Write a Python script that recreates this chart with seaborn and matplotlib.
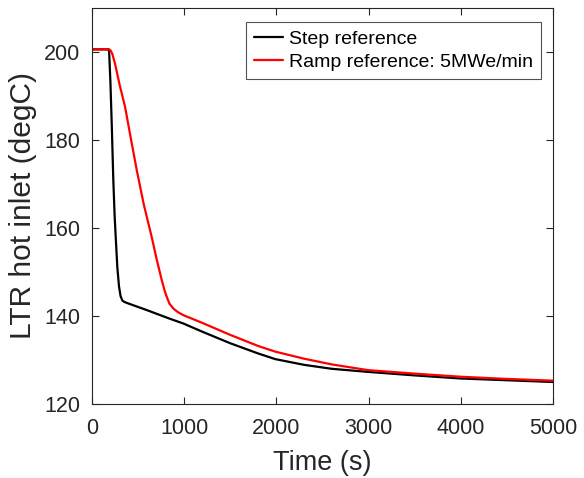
import numpy as np
import pandas as pd
import matplotlib.pyplot as plt
import seaborn as sns

# values (time in s, temperature in degC)
step_t = [0, 100, 180, 186, 200, 215, 231, 245, 257, 275, 293, 310, 330, 350, 400, 600, 828, 990,
          1200, 1500, 1800, 1988, 2300, 2600, 2993, 3500, 3995, 4500, 5000]
step_T = [200.6, 200.6, 200.6, 200.0, 193.0, 183.0, 171.0, 163.0, 158.0, 151.0, 146.7, 144.5, 143.5,
          143.2, 142.8, 141.3, 139.5, 138.3, 136.4, 133.8, 131.5, 130.2, 128.9, 128.0, 127.3, 126.5,
          125.8, 125.4, 125.0]

ramp_t = [0, 100, 184, 200, 220, 249, 300, 358, 420, 485, 560, 647, 700, 756, 790, 810, 840, 882,
          930, 990, 1200, 1500, 1800, 1988, 2300, 2600, 2993, 3500, 3995, 4500, 5000]
ramp_T = [200.6, 200.6, 200.6, 200.4, 199.6, 197.4, 192.5, 187.6, 180.5, 173.2, 165.5, 158.0, 153.0,
          148.2, 145.6, 144.4, 142.8, 141.7, 140.9, 140.2, 138.4, 135.7, 133.2, 131.9, 130.3, 129.0,
          127.7, 126.9, 126.2, 125.7, 125.3]

labels = ["Step reference", "Ramp reference: 5MWe/min"]

df = pd.concat([
    pd.DataFrame({"t": step_t, "T": step_T, "case": labels[0]}),
    pd.DataFrame({"t": ramp_t, "T": ramp_T, "case": labels[1]}),
])

sns.set_style("ticks")
plt.rcParams['font.family'] = ['Liberation Sans', 'DejaVu Sans']

fig = plt.figure(figsize=(5.84, 4.78), dpi=100)
ax = fig.add_axes([92/584, 1-404/478, (553-92)/584, (404-8)/478])

sns.lineplot(data=df, x="t", y="T", hue="case", palette=["#000000", "#ff0000"],
             linewidth=1.6, ax=ax, sort=False, estimator=None)

ax.set_xlim(0, 5000)
ax.set_ylim(120, 210)
ax.set_xticks([0, 1000, 2000, 3000, 4000, 5000])
ax.set_yticks([120, 140, 160, 180, 200])
ax.tick_params(direction="in", length=5, width=0.8, top=True, right=True,
               labelsize=15.5, colors="#262626")
ax.tick_params(axis="x", pad=10)
ax.tick_params(axis="y", pad=8.5)
for s in ax.spines.values():
    s.set_visible(True)
    s.set_color("#262626")
    s.set_linewidth(0.8)
ax.set_xlabel("Time (s)", fontsize=19.5, color="#262626", labelpad=8)
ax.set_ylabel("LTR hot inlet (degC)", fontsize=21.5, color="#262626", labelpad=5)

leg = ax.legend(loc="upper right", bbox_to_anchor=(541/584, 1-22/478), bbox_transform=fig.transFigure,
                fontsize=14, frameon=True, fancybox=False, borderaxespad=0,
                handlelength=1.5, handletextpad=0.3, borderpad=0.42, labelspacing=0.3)
leg.get_frame().set_edgecolor("#262626")
leg.get_frame().set_linewidth(0.8)
for t in leg.get_texts():
    t.set_color("#000000")

fig.savefig("out.png", dpi=100)
